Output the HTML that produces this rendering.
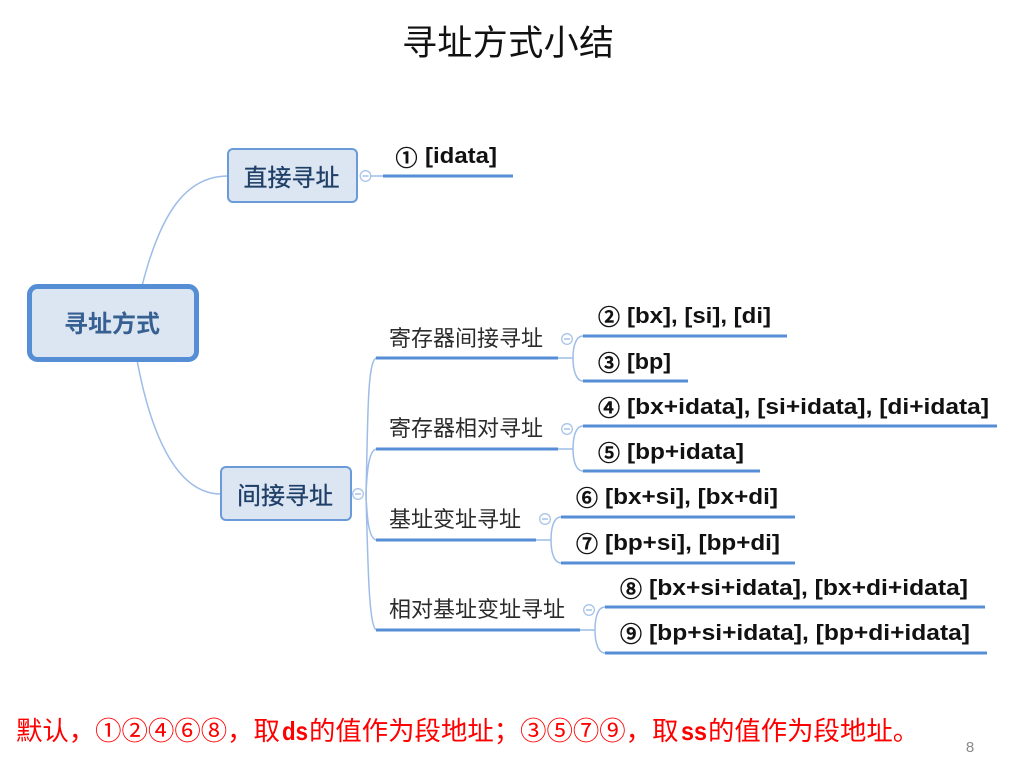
<!DOCTYPE html>
<html><head><meta charset="utf-8"><style>
html,body{margin:0;padding:0;background:#fff}
svg{display:block;filter:blur(.3px)}
text{font-family:"Liberation Sans","Noto Sans CJK SC",sans-serif}
.leaf{font-size:22px;font-weight:bold;fill:#111}
.num{font-size:22px;fill:#111;stroke:#111;stroke-width:.6;font-family:"Noto Sans CJK SC",sans-serif;font-weight:500}
.sub{font-size:22px;fill:#2b2b2b}
.foot{font-size:26.400px;fill:#ff0000}
.ds{font-size:26px;font-weight:bold;fill:#ff0000}
.u{stroke:#558ed5;stroke-width:3;fill:none}
.c{stroke:#9dbde8;stroke-width:1.5;fill:none}
.o{stroke:#a9c4e8;stroke-width:1.3;fill:#fff}
.m{stroke:#8db3e2;stroke-width:1.2}
</style></head><body>
<svg width="1026" height="761" viewBox="0 0 1026 761" xmlns="http://www.w3.org/2000/svg">
<text x="508" y="55" text-anchor="middle" font-size="35" fill="#111" textLength="212">寻址方式小结</text>

<!-- main connectors -->
<path class="c" d="M142 286C160 215 185 176 228 176"/>
<path class="c" d="M137 360C150 430 175 494 221 494"/>
<path class="c" d="M352 494H358"/>
<path class="c" d="M366 494C368 420 367 358 377 358"/>
<path class="c" d="M366 494C367 470 369 449 377 449"/>
<path class="c" d="M366 494C367 520 369 540 377 540"/>
<path class="c" d="M366 494C368 570 369 630 377 630"/>
<path class="c" d="M371 176H383"/>

<!-- nodes -->
<rect x="29.500" y="286.500" width="167" height="73" rx="8" fill="#dce6f2" stroke="#558ed5" stroke-width="5"/>
<text x="112" y="332" text-anchor="middle" font-size="24" font-weight="bold" fill="#376092">寻址方式</text>
<rect x="228" y="149" width="129" height="53" rx="5" fill="#dce6f2" stroke="#6a9bd8" stroke-width="2"/>
<text x="291.500" y="186" text-anchor="middle" font-size="24" fill="#1f3f68" stroke="#1f3f68" stroke-width=".3">直接寻址</text>
<rect x="221" y="467" width="130" height="53" rx="5" fill="#dce6f2" stroke="#6a9bd8" stroke-width="2"/>
<text x="285" y="504" text-anchor="middle" font-size="24" fill="#1f3f68" stroke="#1f3f68" stroke-width=".3">间接寻址</text>

<!-- collapse markers -->
<circle class="o" cx="365.500" cy="176" r="5.300"/><path class="m" d="M362.500 176H368.500"/>
<circle class="o" cx="358" cy="494" r="5.300"/><path class="m" d="M355 494H361"/>
<circle class="o" cx="567" cy="339" r="5.300"/><path class="m" d="M564 339H570"/>
<circle class="o" cx="567" cy="429" r="5.300"/><path class="m" d="M564 429H570"/>
<circle class="o" cx="545" cy="519" r="5.300"/><path class="m" d="M542 519H548"/>
<circle class="o" cx="589" cy="610" r="5.300"/><path class="m" d="M586 610H592"/>

<!-- sub-branch connectors -->
<path class="c" d="M558 358H573M583 336C576 336 573 346 573 358C573 370 576 381 583 381"/>
<path class="c" d="M558 449H573M583 426C576 426 573 436 573 449C573 461 576 471 583 471"/>
<path class="c" d="M536 540H551M561 517C554 517 551 527 551 540C551 552 554 563 561 563"/>
<path class="c" d="M580 630H595M605 607C598 607 595 617 595 630C595 642 598 653 605 653"/>

<!-- underlines -->
<path class="u" d="M383 176H513"/>
<path class="u" d="M376 358H558M376 449H558M376 540H536M376 630H580"/>
<path class="u" d="M583 336H787M583 381H688M583 426H997M583 471H760"/>
<path class="u" d="M561 517H795M561 563H795M605 607H985M605 653H987"/>

<!-- sub labels -->
<text class="sub" x="389" y="346" textLength="154">寄存器间接寻址</text>
<text class="sub" x="389" y="436" textLength="154">寄存器相对寻址</text>
<text class="sub" x="389" y="527" textLength="132">基址变址寻址</text>
<text class="sub" x="389" y="617" textLength="176">相对基址变址寻址</text>

<!-- leaf labels -->
<text class="num" x="406.500" y="166" text-anchor="middle">①</text><text class="leaf" x="425" y="163" textLength="72" lengthAdjust="spacingAndGlyphs">[idata]</text>
<text class="num" x="609" y="325" text-anchor="middle">②</text><text class="leaf" x="627" y="323" textLength="144" lengthAdjust="spacingAndGlyphs">[bx], [si], [di]</text>
<text class="num" x="609" y="371" text-anchor="middle">③</text><text class="leaf" x="627" y="369" textLength="44" lengthAdjust="spacingAndGlyphs">[bp]</text>
<text class="num" x="609" y="416" text-anchor="middle">④</text><text class="leaf" x="627" y="414" textLength="362" lengthAdjust="spacingAndGlyphs">[bx+idata], [si+idata], [di+idata]</text>
<text class="num" x="609" y="461" text-anchor="middle">⑤</text><text class="leaf" x="627" y="459" textLength="117" lengthAdjust="spacingAndGlyphs">[bp+idata]</text>
<text class="num" x="587" y="506" text-anchor="middle">⑥</text><text class="leaf" x="605" y="504" textLength="173" lengthAdjust="spacingAndGlyphs">[bx+si], [bx+di]</text>
<text class="num" x="587" y="552" text-anchor="middle">⑦</text><text class="leaf" x="605" y="550" textLength="175" lengthAdjust="spacingAndGlyphs">[bp+si], [bp+di]</text>
<text class="num" x="631" y="597" text-anchor="middle">⑧</text><text class="leaf" x="649" y="595" textLength="319" lengthAdjust="spacingAndGlyphs">[bx+si+idata], [bx+di+idata]</text>
<text class="num" x="631" y="642" text-anchor="middle">⑨</text><text class="leaf" x="649" y="640" textLength="321" lengthAdjust="spacingAndGlyphs">[bp+si+idata], [bp+di+idata]</text>

<!-- footer -->
<text class="foot" x="16" y="740">默认，①②④⑥⑧，取</text>
<text class="ds" x="282" y="740" textLength="26" lengthAdjust="spacingAndGlyphs">ds</text>
<text class="foot" x="309" y="740">的值作为段地址；③⑤⑦⑨，取</text>
<text class="ds" x="681" y="740" textLength="26" lengthAdjust="spacingAndGlyphs">ss</text>
<text class="foot" x="708" y="740">的值作为段地址。</text>
<text x="970" y="752" text-anchor="middle" font-size="15" fill="#8a8a8a">8</text>
</svg>
</body></html>
